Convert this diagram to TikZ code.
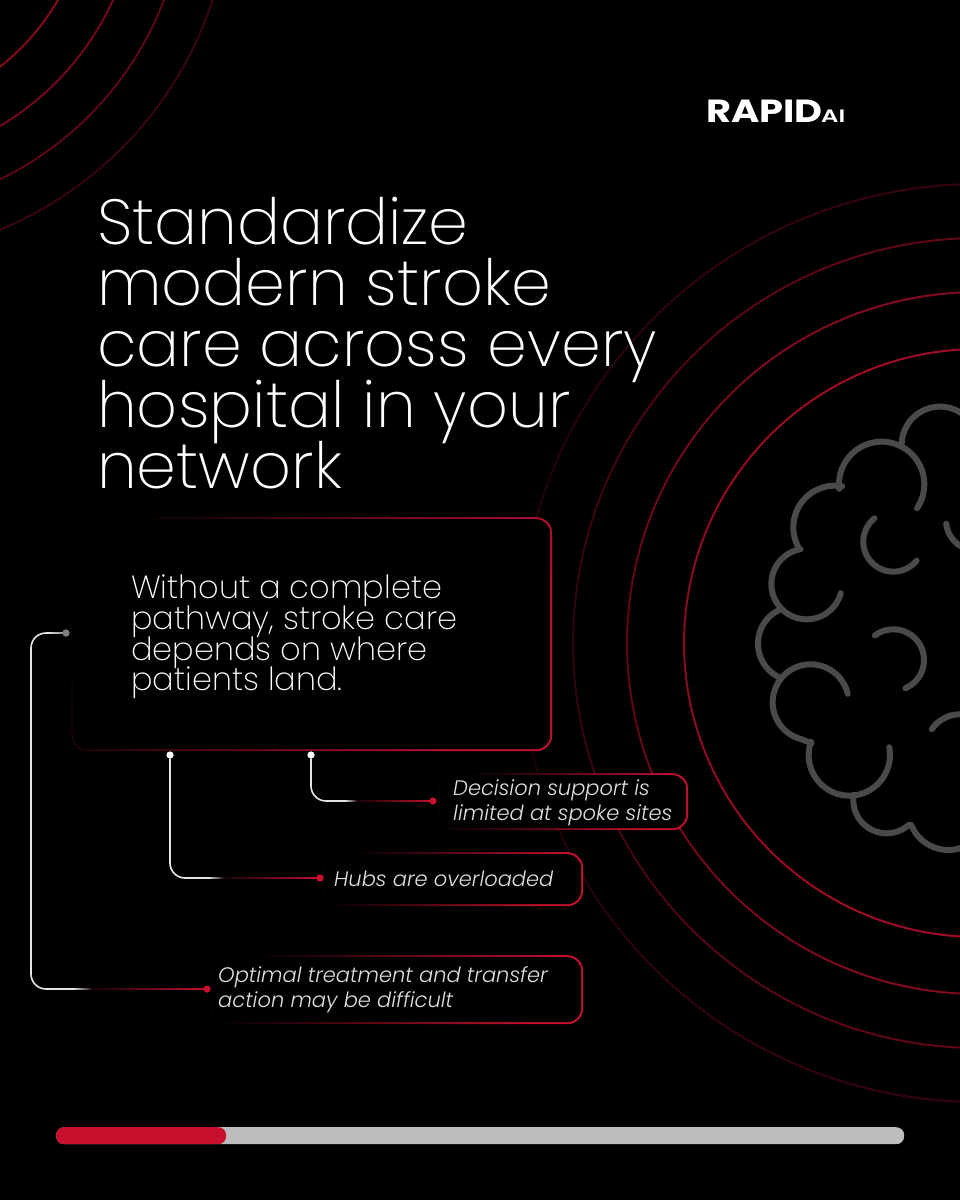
\documentclass[tikz,border=0pt]{standalone}
\usepackage{fontspec}
\setmainfont{Poppins}[UprightFont=* ExtraLight,ItalicFont=* Light Italic,BoldFont=* SemiBold]
\newfontfamily\logofont{Poppins}[UprightFont=* Bold,FakeStretch=1.2]
\newfontfamily\logosmall{Poppins}[UprightFont=* SemiBold,FakeStretch=1.35]
\setlength{\lineskiplimit}{-200pt}
\definecolor{rcol}{HTML}{C8102E}
\definecolor{brain}{HTML}{4A4A4A}
\definecolor{barg}{HTML}{BDBDBD}
\definecolor{wirew}{HTML}{E4E4E4}
\pgfdeclarehorizontalshading{wirefade}{100bp}{color(0bp)=(wirew); color(25bp)=(wirew); color(33bp)=(wirew); color(39bp)=(rcol!12!black); color(75bp)=(rcol); color(100bp)=(rcol)}
\pgfdeclarehorizontalshading{greyfade}{100bp}{color(0bp)=(wirew); color(25bp)=(wirew); color(75bp)=(gray); color(100bp)=(gray)}
\tikzset{
  outerbox/.style={rounded corners=16pt,minimum width=#1,inner sep=0pt,left color=rcol!4!black,middle color=rcol!68!black,right color=rcol,shading angle=63},
  innerfill/.style={fill=black,rounded corners=14pt},
  dotw/.style={circle,fill=white,inner sep=0pt,minimum size=7pt},
  dotg/.style={circle,fill=gray,inner sep=0pt,minimum size=7pt},
  dotr/.style={circle,fill=rcol,inner sep=0pt,minimum size=7pt},
  wire/.style={draw=wirew,line width=1.6pt,rounded corners=15pt},
  brainline/.style={draw=brain,line width=6pt,line cap=round,line join=round},
  lbl/.style={anchor=north west,inner sep=0pt,align=left,text=white!88!black,font=\itshape\fontsize{21}{25}\selectfont}
}
\newcommand{\ringseg}[3]{% radius, pct at left, pct at top
  \foreach \a in {84,86,...,276}{
    \pgfmathsetmacro{\pp}{#2+(#3-#2)*abs(sin(\a))}
    \draw[line width=2pt,color=rcol!\pp!black]
      ({978+#1*cos(\a)},{643-#1*sin(\a)}) -- ({978+#1*cos(\a+2.1)},{643-#1*sin(\a+2.1)});
  }}
\newcommand{\lobe}[5]{% cx, cy, r, start angle, end angle
  \draw[brainline] plot[domain=#4:#5,samples=48,variable=\t] ({#1+#3*cos(\t)},{#2-#3*sin(\t)});}
\begin{document}
\begin{tikzpicture}[x=1pt,y=-1pt]
\useasboundingbox (0,0) rectangle (960,1200);
\fill[black] (0,0) rectangle (960,1200);
\clip (0,0) rectangle (960,1200);
% top-left rings
\draw[line width=2pt,rcol!66!black] (-143,-116) circle[radius=232];
\draw[line width=2pt,rcol!56!black] (-143,-116) circle[radius=281];
\draw[line width=2pt,rcol!46!black] (-143,-116) circle[radius=328];
\draw[line width=2pt,rcol!28!black] (-143,-116) circle[radius=374];
% right rings
\ringseg{294}{66}{80}
\ringseg{351}{45}{65}
\ringseg{405}{22}{48}
\ringseg{459}{12}{27}
% brain
\begin{scope}[shift={(740,390)},x=0.3333pt,y=-0.3333pt]
\lobe{600}{165}{115}{40}{180}
\lobe{425}{283}{128}{-34}{186}
\lobe{285}{412}{125}{80}{209}
\lobe{200}{582}{106}{100}{345}
\lobe{166}{761}{112}{114}{246}
\lobe{212}{937}{114}{13}{255}
\draw[brainline] (182,1047) -- (215,1060);
\lobe{328}{1095}{122}{161}{371}
\lobe{440}{1230}{100}{171}{312}
\lobe{625}{1260}{120}{202}{310}
\lobe{460}{455}{90}{129}{321}
\lobe{460}{810}{92}{-67}{127}
\lobe{710}{390}{92}{187}{270}
\lobe{660}{1075}{102}{60}{146}
\end{scope}
% title
\node[anchor=north west,inner sep=0pt,align=left,text=white,font=\fontsize{63.8}{61}\selectfont] (title) at (97,197)
 {Standardize\\modern stroke\\care across every\\hospital in your\\network};
% logo
\node[anchor=base west,inner sep=0pt,text=white,font=\logofont\fontsize{32}{32}\selectfont] (rapid) at (706,122.5) {RAPID};
\node[anchor=base west,inner sep=0pt,text=white,font=\logosmall\fontsize{18}{18}\selectfont] (ai) at (821,122.5) {AI};
% main box
\node[outerbox=481pt,minimum height=234pt,anchor=north west] (main) at (71,517) {};
\fill[innerfill] ([shift={(2.2,-2.2)}]main.south west) rectangle ([shift={(-2.2,2.2)}]main.north east);
\node[anchor=north west,inner sep=0pt,align=left,text=white,font=\fontsize{32}{30.6}\selectfont] (maintext) at (131,575)
 {Without a complete\\pathway, stroke care\\depends on where\\patients land.};
% labels
\node[outerbox=250pt,minimum height=57pt,anchor=north west] (boxA) at (438,773) {};
\fill[innerfill] ([shift={(2.2,-2.2)}]boxA.south west) rectangle ([shift={(-2.2,2.2)}]boxA.north east);
\node[lbl] (lblA) at (453,779) {Decision support is\\limited at spoke sites};
\node[outerbox=260pt,minimum height=54pt,anchor=north west] (boxB) at (323,852) {};
\fill[innerfill] ([shift={(2.2,-2.2)}]boxB.south west) rectangle ([shift={(-2.2,2.2)}]boxB.north east);
\node[lbl] (lblB) at (334,871) {Hubs are overloaded};
\node[outerbox=373pt,minimum height=69pt,anchor=north west] (boxC) at (210,955) {};
\fill[innerfill] ([shift={(2.2,-2.2)}]boxC.south west) rectangle ([shift={(-2.2,2.2)}]boxC.north east);
\node[lbl] (lblC) at (218,966) {Optimal treatment and transfer\\action may be difficult};
% connectors
\node[dotw] (sA) at (311,755) {};
\node[dotw] (sB) at (170,755) {};
\node[dotg] (sC) at (66,633) {};
\node[dotr] (eA) at (433,801) {};
\node[dotr] (eB) at (320,878) {};
\node[dotr] (eC) at (207,989) {};
\coordinate (mA) at (328,801);
\coordinate (mB) at (187,878);
\coordinate (mC) at (48,989);
\coordinate (lC) at (31,633);
\coordinate (tC) at (48,633);
\draw[wire] (sA) |- (mA);
\draw[wire] (sB) |- (mB);
\draw[wire] (tC) -- (lC) |- (mC);
\shade[shading=wirefade] ([yshift=-0.8pt]mA) rectangle ([yshift=0.8pt]eA.center);
\shade[shading=wirefade] ([yshift=-0.8pt]mB) rectangle ([yshift=0.8pt]eB.center);
\shade[shading=wirefade] ([yshift=-0.8pt]mC) rectangle ([yshift=0.8pt]eC.center);
\shade[shading=greyfade] ([yshift=-0.8pt]tC) rectangle ([yshift=0.8pt]sC.center);
\node[dotw] at (sA) {};
\node[dotw] at (sB) {};
\node[dotg] at (sC) {};
\node[dotr] at (eA) {};
\node[dotr] at (eB) {};
\node[dotr] at (eC) {};
% progress
\node[anchor=north west,fill=barg,rounded corners=8pt,minimum width=848pt,minimum height=17pt,inner sep=0pt] (bar) at (56,1127) {};
\node[anchor=north west,fill=rcol,rounded corners=8pt,minimum width=170pt,minimum height=17pt,inner sep=0pt] (barred) at (56,1127) {};
\end{tikzpicture}
\end{document}
